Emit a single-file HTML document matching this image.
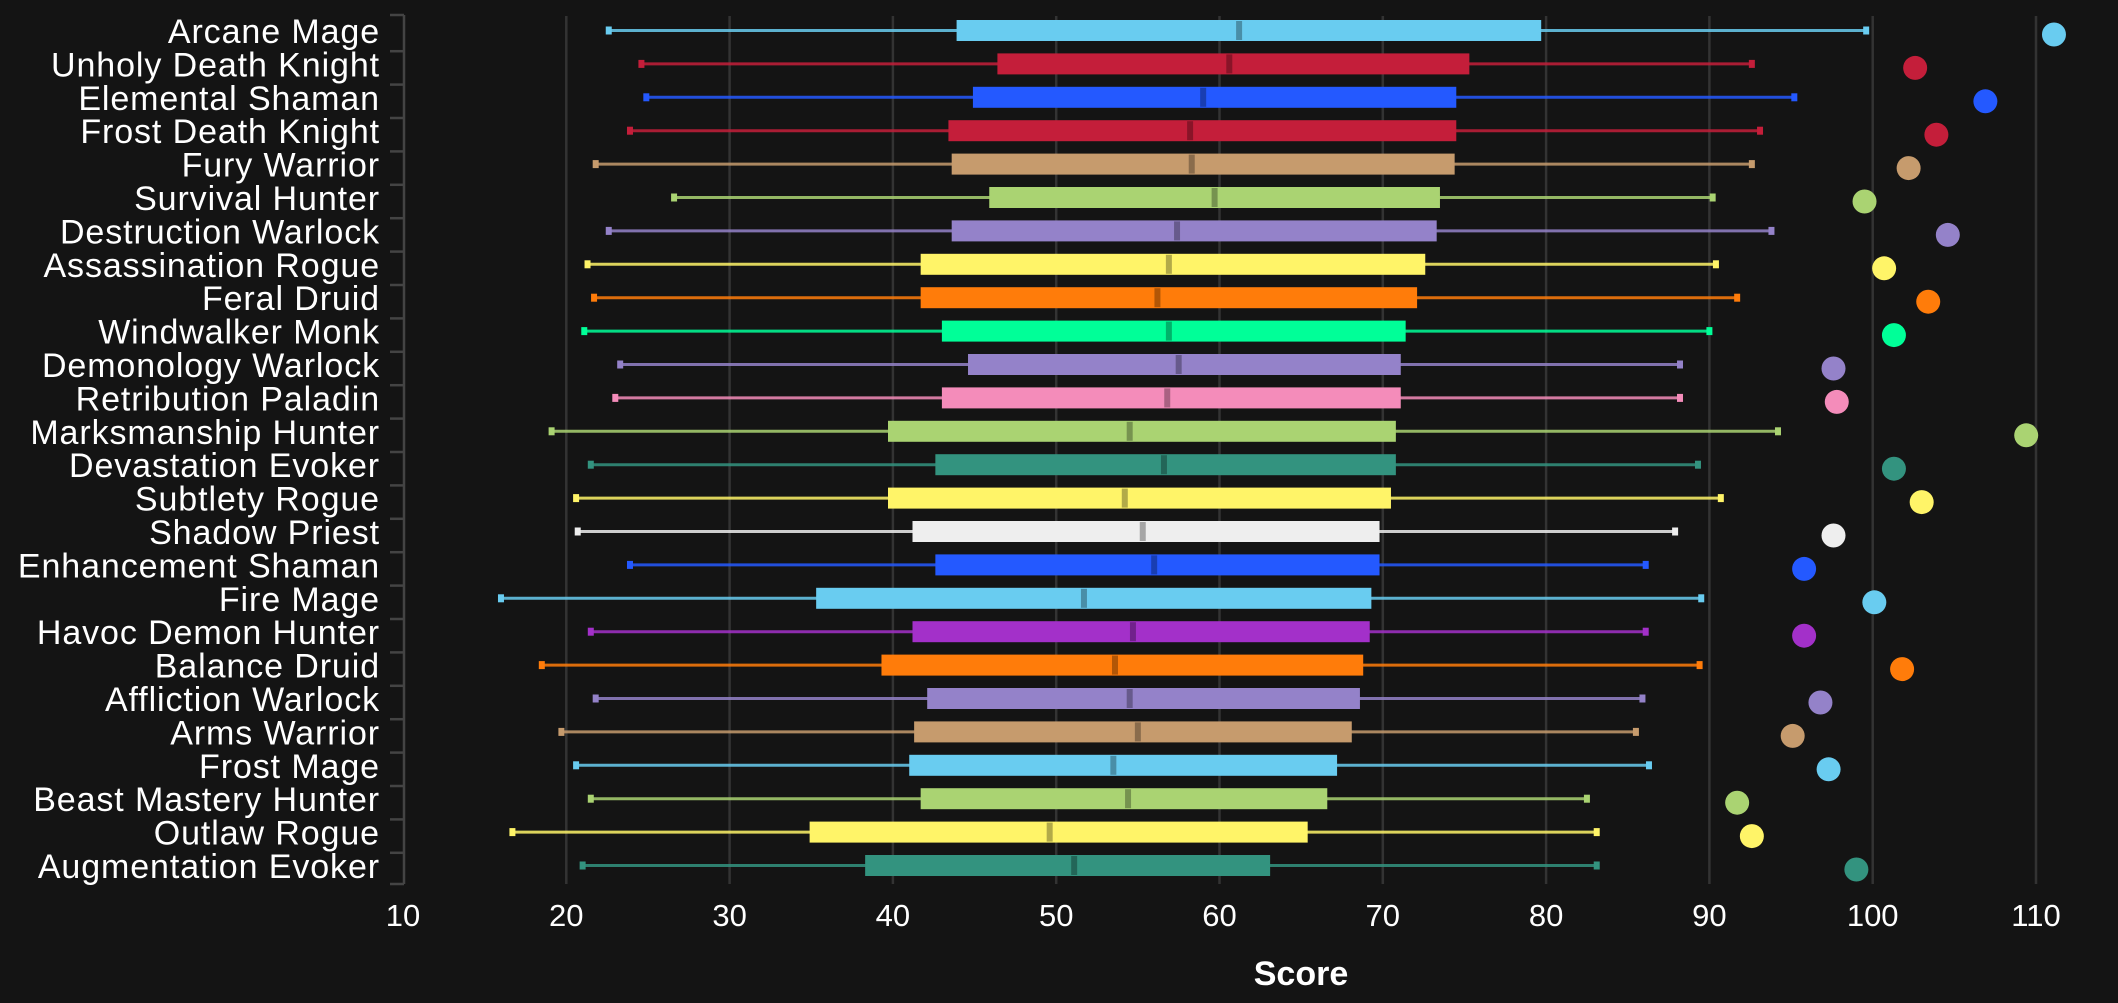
<!DOCTYPE html>
<html><head><meta charset="utf-8"><style>
html,body{margin:0;padding:0;background:#141414;}
svg{display:block;}
text{font-family:"Liberation Sans","DejaVu Sans",sans-serif;fill:#fff;}
</style></head><body>
<svg id="chart" width="2118" height="1003" viewBox="0 0 2118 1003" xmlns="http://www.w3.org/2000/svg">
<rect width="2118" height="1003" fill="#141414"/>
<g stroke="#333" stroke-width="2.5">
<line x1="566.3" y1="16" x2="566.3" y2="884"/><line x1="729.6" y1="16" x2="729.6" y2="884"/><line x1="892.9" y1="16" x2="892.9" y2="884"/><line x1="1056.2" y1="16" x2="1056.2" y2="884"/><line x1="1219.5" y1="16" x2="1219.5" y2="884"/><line x1="1382.8" y1="16" x2="1382.8" y2="884"/><line x1="1546.1" y1="16" x2="1546.1" y2="884"/><line x1="1709.4" y1="16" x2="1709.4" y2="884"/><line x1="1872.7" y1="16" x2="1872.7" y2="884"/><line x1="2036" y1="16" x2="2036" y2="884"/>
</g>
<g stroke="#444" stroke-width="2.5" fill="none">
<line x1="404" y1="15" x2="404" y2="884"/>
<line x1="390" y1="15" x2="404" y2="15"/><line x1="390" y1="884" x2="404" y2="884"/>
</g>
<g id="ticks" stroke="#444" stroke-width="2.5"></g>
<g id="rows"></g>
<g font-size="31" text-anchor="middle">
<text x="403" y="926">10</text><text x="566.3" y="926">20</text><text x="729.6" y="926">30</text><text x="892.9" y="926">40</text><text x="1056.2" y="926">50</text><text x="1219.5" y="926">60</text><text x="1382.8" y="926">70</text><text x="1546.1" y="926">80</text><text x="1709.4" y="926">90</text><text x="1872.7" y="926">100</text><text x="2036" y="926">110</text>
</g>
<text x="1301" y="985" font-size="34" font-weight="bold" text-anchor="middle">Score</text>
<g id="labels" font-size="34" text-anchor="end" letter-spacing="0.9">
<text x="380" y="43">Arcane Mage</text>
<text x="380" y="76.4">Unholy Death Knight</text>
<text x="380" y="109.8">Elemental Shaman</text>
<text x="380" y="143.2">Frost Death Knight</text>
<text x="380" y="176.6">Fury Warrior</text>
<text x="380" y="210">Survival Hunter</text>
<text x="380" y="243.4">Destruction Warlock</text>
<text x="380" y="276.8">Assassination Rogue</text>
<text x="380" y="310.2">Feral Druid</text>
<text x="380" y="343.6">Windwalker Monk</text>
<text x="380" y="377">Demonology Warlock</text>
<text x="380" y="410.4">Retribution Paladin</text>
<text x="380" y="443.8">Marksmanship Hunter</text>
<text x="380" y="477.2">Devastation Evoker</text>
<text x="380" y="510.6">Subtlety Rogue</text>
<text x="380" y="544">Shadow Priest</text>
<text x="380" y="577.4">Enhancement Shaman</text>
<text x="380" y="610.8">Fire Mage</text>
<text x="380" y="644.2">Havoc Demon Hunter</text>
<text x="380" y="677.6">Balance Druid</text>
<text x="380" y="711">Affliction Warlock</text>
<text x="380" y="744.4">Arms Warrior</text>
<text x="380" y="777.8">Frost Mage</text>
<text x="380" y="811.2">Beast Mastery Hunter</text>
<text x="380" y="844.6">Outlaw Rogue</text>
<text x="380" y="878">Augmentation Evoker</text>
</g>
</svg>
<script>
var d=[
["#69CCF0",22.6,43.9,61.2,79.7,99.6,111.1],
["#C41E3A",24.6,46.4,60.6,75.3,92.6,102.6],
["#2459FF",24.9,44.9,59.0,74.5,95.2,106.9],
["#C41E3A",23.9,43.4,58.2,74.5,93.1,103.9],
["#C69B6D",21.8,43.6,58.3,74.4,92.6,102.2],
["#AAD372",26.6,45.9,59.7,73.5,90.2,99.5],
["#9482C9",22.6,43.6,57.4,73.3,93.8,104.6],
["#FFF468",21.3,41.7,56.9,72.6,90.4,100.7],
["#FF7C0A",21.7,41.7,56.2,72.1,91.7,103.4],
["#00FF98",21.1,43.0,56.9,71.4,90.0,101.3],
["#9482C9",23.3,44.6,57.5,71.1,88.2,97.6],
["#F48CBA",23.0,43.0,56.8,71.1,88.2,97.8],
["#AAD372",19.1,39.7,54.5,70.8,94.2,109.4],
["#33937F",21.5,42.6,56.6,70.8,89.3,101.3],
["#FFF468",20.6,39.7,54.2,70.5,90.7,103.0],
["#EEEEEE",20.7,41.2,55.3,69.8,87.9,97.6],
["#2459FF",23.9,42.6,56.0,69.8,86.1,95.8],
["#69CCF0",16.0,35.3,51.7,69.3,89.5,100.1],
["#A330C9",21.5,41.2,54.7,69.2,86.1,95.8],
["#FF7C0A",18.5,39.3,53.6,68.8,89.4,101.8],
["#9482C9",21.8,42.1,54.5,68.6,85.9,96.8],
["#C69B6D",19.7,41.3,55.0,68.1,85.5,95.1],
["#69CCF0",20.6,41.0,53.5,67.2,86.3,97.3],
["#AAD372",21.5,41.7,54.4,66.6,82.5,91.7],
["#FFF468",16.7,34.9,49.6,65.4,83.1,92.6],
["#33937F",21.0,38.3,51.1,63.1,83.1,99.0]];
var NS="http://www.w3.org/2000/svg";
function X(v){return 403+16.33*(v-10);}
function el(p,tag,a){var e=document.createElementNS(NS,tag);for(var k in a)e.setAttribute(k,a[k]);p.appendChild(e);return e;}
var rows=document.getElementById("rows"),ticks=document.getElementById("ticks");
for(var i=0;i<d.length;i++){
 var r=d[i],c=r[0],y=30.5+33.4*i;
 el(rows,"line",{x1:X(r[1]),y1:y,x2:X(r[5]),y2:y,stroke:c,"stroke-opacity":0.85,"stroke-width":3});
 el(rows,"rect",{x:X(r[1])-3,y:y-4,width:6,height:8,fill:c});
 el(rows,"rect",{x:X(r[5])-3,y:y-4,width:6,height:8,fill:c});
 el(rows,"rect",{x:X(r[2]),y:y-10.5,width:X(r[4])-X(r[2]),height:21,fill:c});
 el(rows,"rect",{x:X(r[3])-3,y:y-9.5,width:6,height:19,fill:"#000","fill-opacity":0.3});
 el(rows,"circle",{cx:X(r[6]),cy:y+4,r:12,fill:c});
 if(i<25)el(ticks,"line",{x1:390,y1:y+20.7,x2:404,y2:y+20.7});
}
</script>
</body></html>
